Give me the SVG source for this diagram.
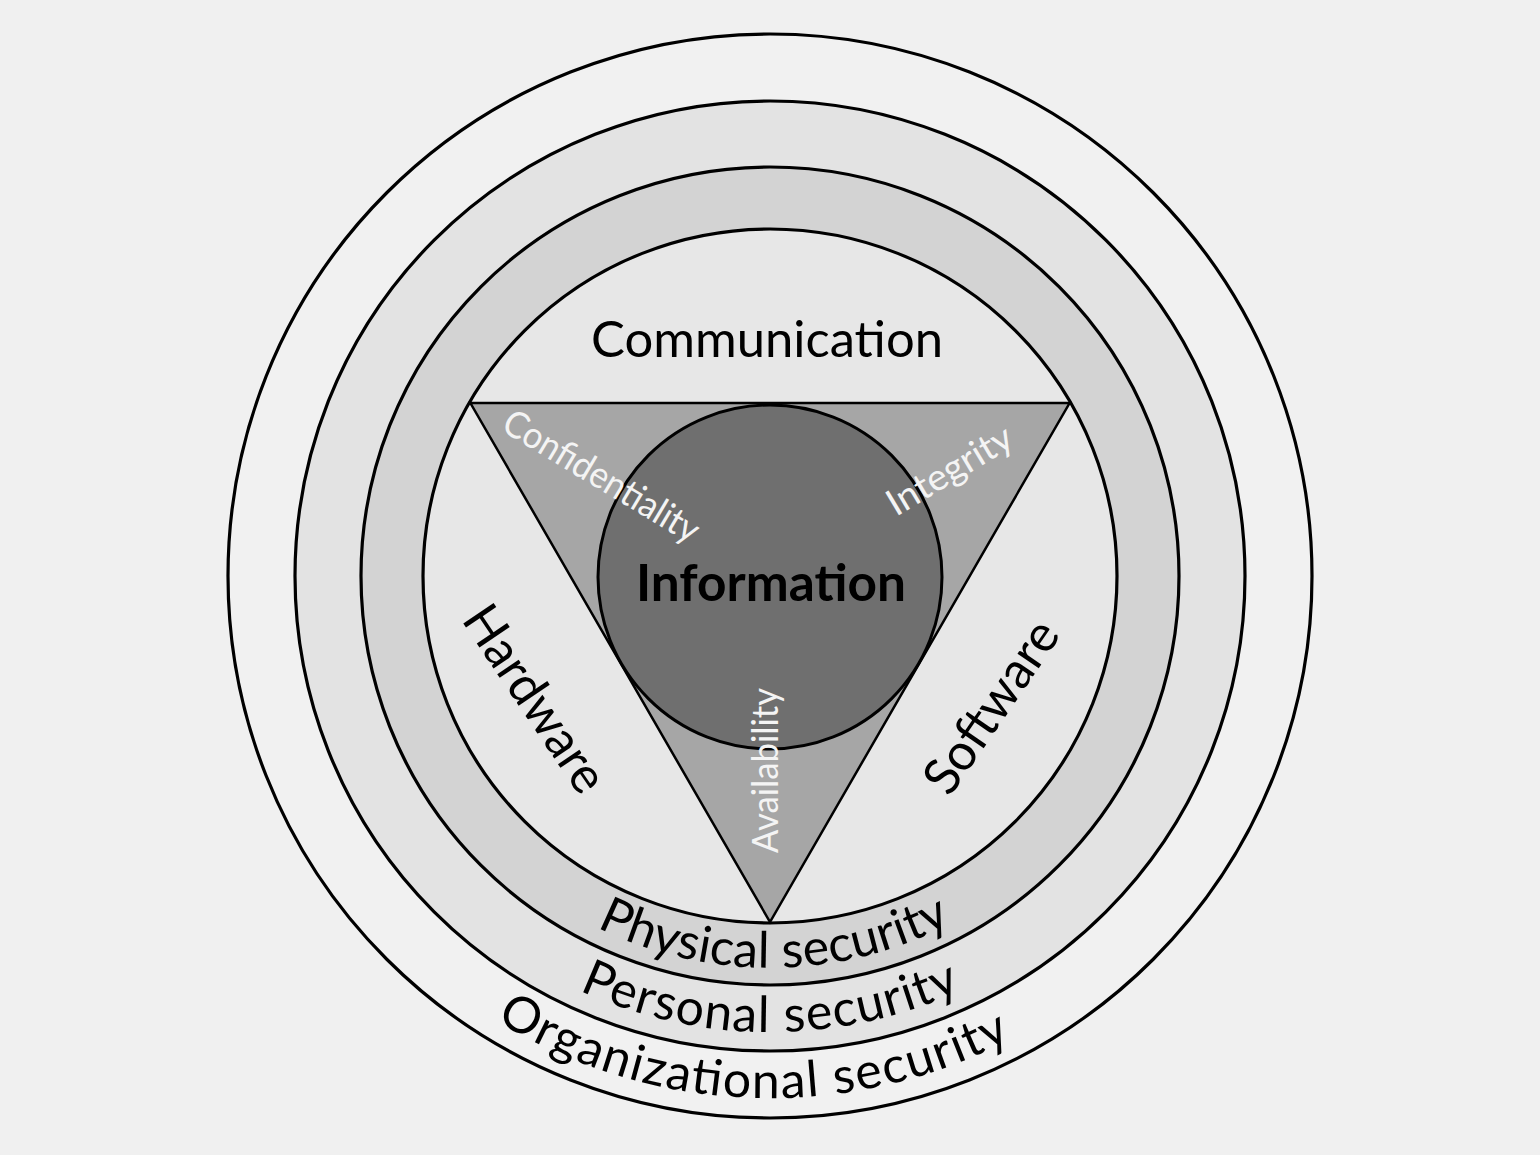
<svg xmlns="http://www.w3.org/2000/svg" width="1540" height="1155" viewBox="0 0 1540 1155">
<style>
.ring{stroke:#000;stroke-width:3.2}
.lbl{font-family:Lato,"Liberation Sans",sans-serif;fill:#000}
.wl{font-family:Lato,"Liberation Sans",sans-serif;fill:#f4f4f4;font-size:37px}
.big{font-size:51px}
.arc{font-size:50px}
</style>
<defs>
<path id="pPhys" d="M384.0,644.1 A392,392 0 0 0 1156.0,644.1"/>
<path id="pPers" d="M320.9,655.2 A456,456 0 0 0 1219.1,655.2"/>
<path id="pOrg" d="M255.9,666.6 A522,522 0 0 0 1284.1,666.6"/>
</defs>
<rect x="0" y="0" width="1540" height="1155" fill="#f0f0f0"/>
<g id="organizational-security">
<circle class="ring" cx="770" cy="576" r="542" fill="#f1f1f1"/>
<text class="lbl arc"><textPath href="#pOrg" startOffset="48.7%" text-anchor="middle" textLength="539" lengthAdjust="spacing">Organizational security</textPath></text>
</g>
<g id="personal-security">
<circle class="ring" cx="770" cy="576" r="475" fill="#e3e3e3"/>
</g>
<g id="physical-security">
<circle class="ring" cx="770" cy="576" r="409" fill="#d3d3d3"/>
</g>
<g id="systems">
<circle class="ring" cx="770" cy="576" r="347" fill="#e7e7e7"/>
<text class="lbl big" x="767" y="357" text-anchor="middle" textLength="352" lengthAdjust="spacingAndGlyphs">Communication</text>
<text class="lbl big" transform="translate(520.5,708.5) rotate(56)" text-anchor="middle" textLength="214" lengthAdjust="spacingAndGlyphs">Hardware</text>
<text class="lbl big" transform="translate(1005.5,716.5) rotate(-55.5)" text-anchor="middle" textLength="198" lengthAdjust="spacingAndGlyphs">Software</text>
</g>
<g id="cia-triangle">
<polygon points="470.4,403 1069.6,403 770,922" fill="#a6a6a6" stroke="#000" stroke-width="2.5" stroke-linejoin="miter"/>
</g>
<g id="information">
<circle cx="770" cy="577" r="172" fill="#6f6f6f" stroke="#000" stroke-width="3"/>
<text class="lbl" x="771" y="601" font-size="51" font-weight="bold" text-anchor="middle" textLength="270" lengthAdjust="spacingAndGlyphs">Information</text>
</g>
<g id="cia-labels">
<text class="wl" transform="translate(595,487) rotate(31)" text-anchor="middle" textLength="222" lengthAdjust="spacingAndGlyphs">Confidentiality</text>
<text class="wl" transform="translate(956,481) rotate(-31)" text-anchor="middle" textLength="140" lengthAdjust="spacingAndGlyphs">Integrity</text>
<text class="wl" transform="translate(778,770.5) rotate(-90)" text-anchor="middle" textLength="165" lengthAdjust="spacingAndGlyphs">Availability</text>
</g>
<g id="ring-labels">
<text class="lbl arc"><textPath href="#pPhys" startOffset="50.4%" text-anchor="middle" textLength="368" lengthAdjust="spacing">Physical security</textPath></text>
<text class="lbl arc"><textPath href="#pPers" startOffset="50%" text-anchor="middle" textLength="394" lengthAdjust="spacing">Personal security</textPath></text>
</g>
<g id="connectors"/>
</svg>
